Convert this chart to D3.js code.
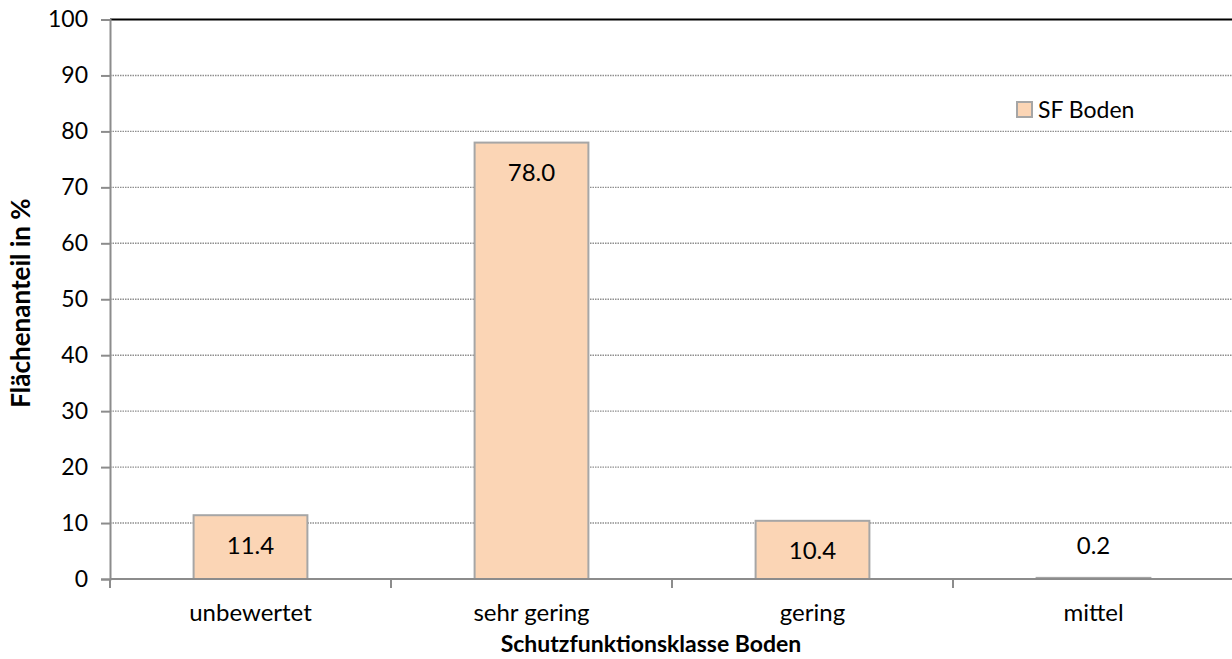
<!DOCTYPE html>
<html>
<head>
<meta charset="utf-8">
<script src="https://cdn.jsdelivr.net/npm/d3@7"></script>
<style>
  html, body { margin: 0; padding: 0; background: #fff; }
  svg { display: block; font-family: Lato, "Open Sans", sans-serif; }
</style>
</head>
<body>
<svg id="chart" width="1232" height="659"></svg>
<script>
// Flächenanteile je Schutzfunktionsklasse (Boden)
const categories = ["unbewertet", "sehr gering", "gering", "mittel"];
const sfBoden = [11.4, 78.0, 10.4, 0.2];
const yTicks = [0, 10, 20, 30, 40, 50, 60, 70, 80, 90, 100];
const seriesName = "SF Boden";
const xTitle = "Schutzfunktionsklasse Boden";
const yTitle = "Flächenanteil in %";

const svg = d3.select("#chart");
const W = 1232;
const x0 = 110, x1 = W + 2;
const yBottom = 579, yTop = 19.5;

const x = d3.scaleBand().domain(categories).range([x0, x1]).paddingInner(0.595).paddingOuter(0.2975);
const xOuter = d3.scaleBand().domain(categories).range([x0, x1]);
const y = d3.scaleLinear().domain([0, 100]).range([yBottom, yTop]);

const axisColor = "#8c8c8c";

// horizontal grid lines (dotted), top line solid black
const grid = svg.append("g");
grid.selectAll("line").data(yTicks.filter(t => t > 0 && t < 100)).join("line")
  .attr("x1", x0).attr("x2", x1)
  .attr("y1", d => y(d)).attr("y2", d => y(d))
  .attr("stroke", "#8f8f8f").attr("stroke-width", 1.4)
  .attr("stroke-dasharray", "1.5,1");
svg.append("line")
  .attr("x1", x0).attr("x2", x1).attr("y1", y(100)).attr("y2", y(100))
  .attr("stroke", "#000").attr("stroke-width", 2);

// bars
svg.append("g").selectAll("rect").data(sfBoden).join("rect")
  .attr("x", (d, i) => x(categories[i]))
  .attr("width", x.bandwidth())
  .attr("y", d => y(d))
  .attr("height", d => y(0) - y(d))
  .attr("fill", "#fbd5b5")
  .attr("stroke", "#a6a6a6").attr("stroke-width", 2);

// value labels
svg.append("g").selectAll("text").data(sfBoden).join("text")
  .attr("x", (d, i) => x(categories[i]) + x.bandwidth() / 2)
  .attr("y", d => (y(0) - y(d) > 40 ? y(d) + 30 : y(d) - 32))
  .attr("dy", "0.35em")
  .attr("text-anchor", "middle")
  .attr("font-size", 24)
  .attr("fill", "#000")
  .text(d => d.toFixed(1));

// y axis
const yAxis = d3.axisLeft(y).tickValues(yTicks).tickSize(9).tickPadding(13);
const gy = svg.append("g").attr("transform", `translate(${x0},0)`).call(yAxis);
gy.select(".domain").attr("stroke", axisColor).attr("stroke-width", 2);
gy.selectAll(".tick line").attr("stroke", axisColor).attr("stroke-width", 2);
gy.selectAll(".tick text").attr("font-size", 23).attr("fill", "#000")
  .attr("font-family", "Lato, sans-serif");

// x axis with ticks at category boundaries
const gx = svg.append("g").attr("transform", `translate(0,${yBottom})`);
gx.append("line").attr("x1", x0).attr("x2", x1).attr("stroke", axisColor).attr("stroke-width", 2);
const bounds = categories.map(c => xOuter(c)).concat([x1]);
gx.selectAll("line.tk").data(bounds).join("line").attr("class", "tk")
  .attr("x1", d => d).attr("x2", d => d).attr("y1", 0).attr("y2", 9)
  .attr("stroke", axisColor).attr("stroke-width", 2);
gx.selectAll("text").data(categories).join("text")
  .attr("x", d => xOuter(d) + xOuter.bandwidth() / 2)
  .attr("y", 42)
  .attr("text-anchor", "middle")
  .attr("font-size", 24)
  .text(d => d);

// axis titles
svg.append("text")
  .attr("x", 651).attr("y", 652)
  .attr("text-anchor", "middle").attr("font-size", 23).attr("font-weight", "bold")
  .text(xTitle);
svg.append("text")
  .attr("transform", "translate(30,303) rotate(-90)")
  .attr("text-anchor", "middle").attr("font-size", 26).attr("font-weight", "bold")
  .text(yTitle);

// legend
const lg = svg.append("g").attr("transform", "translate(1017,102)");
lg.append("rect").attr("width", 15).attr("height", 15)
  .attr("fill", "#fbd5b5").attr("stroke", "#a6a6a6").attr("stroke-width", 2);
lg.append("text").attr("x", 21).attr("y", 8).attr("dy", "0.35em")
  .attr("font-size", 23).text(seriesName);
</script>
</body>
</html>
